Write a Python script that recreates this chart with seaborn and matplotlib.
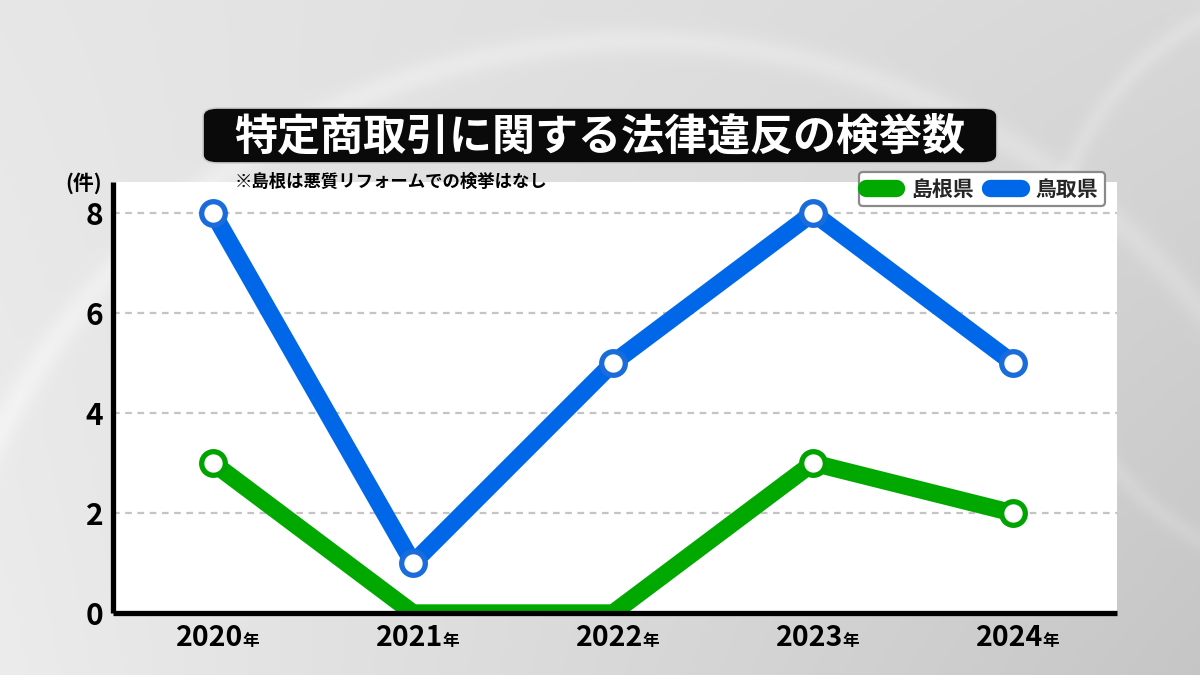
import numpy as np
import pandas as pd
import matplotlib
matplotlib.use("Agg")
import matplotlib.pyplot as plt
import seaborn as sns
from matplotlib.lines import Line2D
from matplotlib.patches import FancyBboxPatch

# ---- data ----
years = [2020, 2021, 2022, 2023, 2024]
shimane = [3, 0, 0, 3, 2]
tottori = [8, 1, 5, 8, 5]
series_names = ["島根県", "鳥取県"]
yticks = [0, 2, 4, 6, 8]
title = "特定商取引に関する法律違反の検挙数"
note = "※島根は悪質リフォームでの検挙はなし"
unit = "(件)"
year_suffix = "年"

colors = {"島根県": "#00A800", "鳥取県": "#0068E8"}
edge_colors = {"島根県": "#00A300", "鳥取県": "#1A6CDA"}

sns.set_theme(style="white")
plt.rcParams["font.family"] = ["Noto Sans CJK JP", "DejaVu Sans"]
plt.rcParams["font.weight"] = "bold"

df = pd.DataFrame({"year": years * 2,
                   "value": shimane + tottori,
                   "pref": [series_names[0]] * len(years) + [series_names[1]] * len(years)})

W, H = 1200, 675
fig = plt.figure(figsize=(W / 100, H / 100), dpi=100)

# ---- background gradient ----
bg = fig.add_axes([0, 0, 1, 1], zorder=-10)
gy, gx = np.mgrid[0:1:270j, 0:1:480j]
v = 0.905 - 0.13 * gx * (0.45 + 0.55 * gy) + 0.02 * (1 - gx) * gy
px, py = gx * W, gy * H
r1 = np.sqrt((px - 640) ** 2 + (py - 760) ** 2)
v += 0.035 * np.exp(-((r1 - 720) / 14) ** 2)
r2 = np.sqrt((px - 1350) ** 2 + (py - 280) ** 2)
v += 0.03 * np.exp(-((r2 - 300) / 10) ** 2)
v = np.clip(v, 0, 1)
bg.imshow(np.dstack([v, v, v]), aspect="auto", extent=[0, 1, 0, 1], interpolation="bilinear")
bg.set_axis_off()

# ---- main axes ----
left, right, bottom, top = 113, 1117, 613, 182
ax = fig.add_axes([left / W, (H - bottom) / H, (right - left) / W, (bottom - top) / H])
ax.set_facecolor("white")

for name in series_names:
    sub = df[df["pref"] == name]
    idx = [i for i, val in enumerate(sub["value"].tolist()) if val > 0]
    sns.lineplot(data=sub, x="year", y="value", ax=ax, color=colors[name],
                 lw=12.5, marker="o", markersize=17, markeredgewidth=3.8,
                 markerfacecolor="white", markeredgecolor=edge_colors[name],
                 markevery=idx, solid_joinstyle="miter", legend=False,
                 zorder=3 if name == series_names[1] else 2)

ax.set_xlim(years[0] - 0.5, years[-1] + 0.52)
ax.set_ylim(0, 8.62)
ax.set_yticks(yticks)
ax.set_yticklabels([str(t) for t in yticks])
ax.set_xticks(years)
ax.set_xticklabels([])
ax.set_xlabel("")
ax.set_ylabel("")
ax.tick_params(axis="y", direction="in", length=9.5, width=3.6, color="black",
               labelsize=21.5, pad=7, labelcolor="black")
ax.tick_params(axis="x", length=0)
ax.yaxis.grid(True, color="#c4c4c4", lw=1.6, ls=(0, (3, 2.5)))
ax.set_axisbelow(True)
for s in ["top", "right"]:
    ax.spines[s].set_visible(False)
for s in ["left", "bottom"]:
    ax.spines[s].set_linewidth(3.8)
    ax.spines[s].set_color("black")
    ax.spines[s].set_zorder(5)
    ax.spines[s].set_capstyle("butt")

# x labels: year + small 年
for yr in years:
    ax.annotate(str(yr), xy=(yr, 0), xycoords=("data", "axes fraction"),
                xytext=(22, -24), textcoords="offset points", ha="right", va="baseline",
                fontsize=20.5, fontweight="bold", color="black", annotation_clip=False)
    ax.annotate(year_suffix, xy=(yr, 0), xycoords=("data", "axes fraction"),
                xytext=(21.5, -24), textcoords="offset points", ha="left", va="baseline",
                fontsize=12, fontweight="bold", color="black", annotation_clip=False)

# ---- title box ----
tb = FancyBboxPatch((203 / W, (H - 163) / H), (997 - 203) / W, 55 / H,
                    boxstyle="round,pad=0,rounding_size=0.012", transform=fig.transFigure,
                    facecolor="#0a0a0a", edgecolor="#cfcfcf", lw=1.2, zorder=20)
fig.patches.append(tb)
fig.text(600 / W, 1 - 136 / H, title, ha="center", va="center", color="white",
         fontsize=31, fontweight="bold", zorder=21)

# unit and note
fig.text(84 / W, 1 - 183 / H, unit, ha="center", va="center", fontsize=15,
         fontweight="bold", color="black", zorder=21)
fig.text(235 / W, 1 - 182 / H, note, ha="left", va="center", fontsize=12.5,
         fontweight="bold", color="black", zorder=21)

# ---- legend ----
handles = [Line2D([0], [0], color=colors[n], lw=12.5, solid_capstyle="round") for n in series_names]
leg = fig.legend(handles, series_names, loc="center", bbox_to_anchor=(982 / W, 1 - 189 / H),
                 ncol=2, fontsize=15, frameon=True, fancybox=True, handlelength=1.45,
                 handletextpad=0.72, columnspacing=0.8, borderpad=0.33, borderaxespad=0)
leg.get_frame().set_edgecolor("#8a8a8a")
leg.get_frame().set_linewidth(1.6)
leg.get_frame().set_facecolor("white")
leg.get_frame().set_alpha(1)
leg.set_zorder(30)
for t in leg.get_texts():
    t.set_fontweight("bold")

fig.savefig("out.png", dpi=100)
